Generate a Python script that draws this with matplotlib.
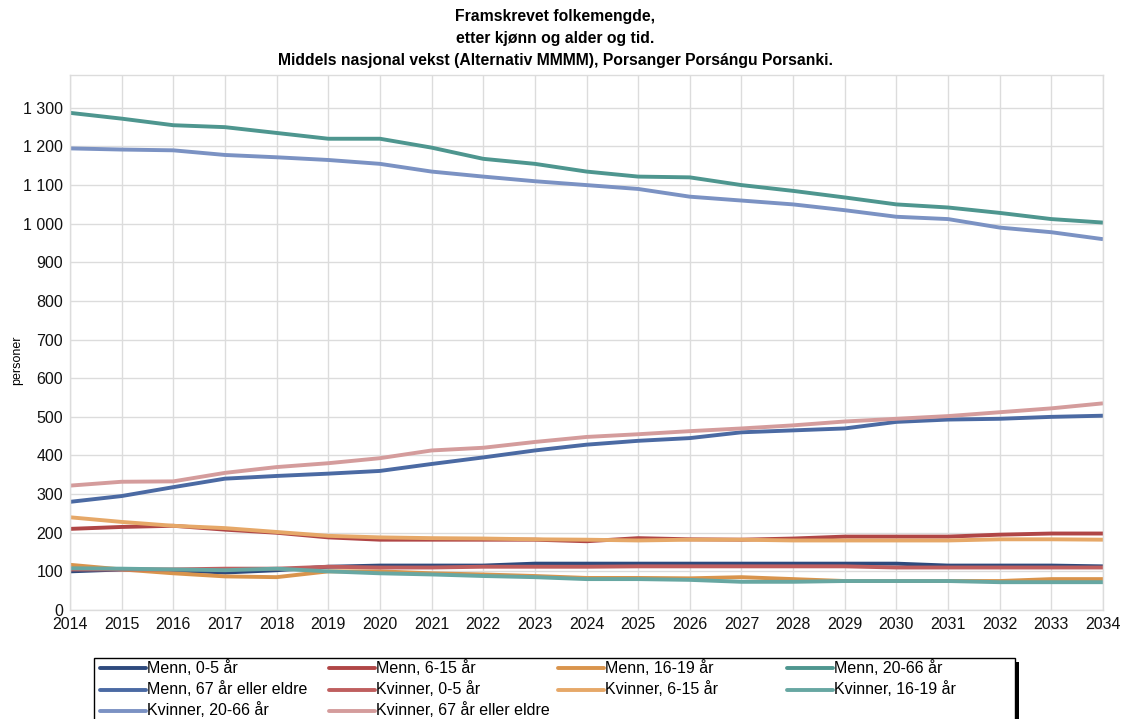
import matplotlib
matplotlib.use("Agg")
import matplotlib.pyplot as plt
from matplotlib.lines import Line2D
from matplotlib.patches import Rectangle

plt.rcParams['font.family'] = ['Liberation Sans', 'DejaVu Sans']

years = list(range(2014, 2035))

series_names = [
    "Menn, 0-5 år", "Menn, 6-15 år", "Menn, 16-19 år", "Menn, 20-66 år",
    "Menn, 67 år eller eldre", "Kvinner, 0-5 år", "Kvinner, 6-15 år",
    "Kvinner, 16-19 år", "Kvinner, 20-66 år", "Kvinner, 67 år eller eldre",
]

menn_0_5 = [100, 105, 103, 97, 103, 112, 115, 115, 115, 120, 120, 120, 120, 120, 120, 120, 120, 115, 115, 115, 113]
menn_6_15 = [210, 215, 218, 208, 200, 188, 182, 182, 182, 182, 178, 186, 183, 182, 185, 190, 190, 190, 195, 198, 198]
menn_16_19 = [117, 105, 95, 87, 85, 100, 100, 95, 92, 88, 83, 83, 82, 85, 80, 75, 75, 75, 75, 80, 80]
menn_20_66 = [1287, 1272, 1255, 1250, 1235, 1220, 1220, 1197, 1168, 1155, 1135, 1122, 1120, 1100, 1085, 1068, 1050, 1042, 1028, 1012, 1003]
menn_67 = [280, 295, 318, 340, 347, 353, 360, 378, 395, 413, 428, 438, 445, 460, 465, 470, 487, 493, 495, 500, 503]
kvinner_0_5 = [105, 105, 105, 107, 107, 112, 110, 110, 112, 112, 112, 113, 113, 113, 113, 113, 110, 110, 110, 110, 110]
kvinner_6_15 = [240, 228, 218, 212, 202, 192, 188, 186, 185, 183, 182, 180, 182, 182, 180, 180, 180, 180, 183, 183, 182]
kvinner_16_19 = [108, 107, 105, 103, 107, 100, 95, 92, 88, 85, 80, 80, 78, 73, 73, 75, 75, 75, 72, 72, 72]
kvinner_20_66 = [1195, 1192, 1190, 1178, 1172, 1165, 1155, 1135, 1122, 1110, 1100, 1090, 1070, 1060, 1050, 1035, 1018, 1012, 990, 978, 960]
kvinner_67 = [322, 332, 333, 355, 370, 380, 393, 413, 420, 435, 448, 455, 463, 470, 478, 488, 495, 502, 512, 522, 535]

series_values = [menn_0_5, menn_6_15, menn_16_19, menn_20_66, menn_67,
                 kvinner_0_5, kvinner_6_15, kvinner_16_19, kvinner_20_66, kvinner_67]

colors = ["#2e4a7d", "#b04646", "#d9944c", "#4e968f", "#4b6aa3",
          "#bf5f5f", "#e6a868", "#67a7a2", "#7b92c3", "#d49c9c"]

yticks = list(range(0, 1400, 100))
ytick_labels = [f"{v:,}".replace(",", " ") for v in yticks]

W, H = 1126, 719
fig = plt.figure(figsize=(W / 100, H / 100), dpi=100)
ax = fig.add_axes([70 / W, 1 - 610 / H, (1103 - 70) / W, (610 - 75) / H])

for vals, name, c in zip(series_values, series_names, colors):
    ax.plot(years, vals, color=c, lw=2.8, label=name, solid_capstyle='butt')

ax.set_xlim(2014, 2034)
ax.set_ylim(0, 1385)
ax.set_xticks(years)
ax.set_xticklabels([str(y) for y in years])
ax.set_yticks(yticks)
ax.set_yticklabels(ytick_labels)
ax.tick_params(axis='both', length=0, labelsize=11.5, colors="#111111")
ax.tick_params(axis='x', pad=5)
ax.tick_params(axis='y', pad=5)
ax.grid(True, color="#dcdcdc", lw=1)
ax.set_axisbelow(True)
for s in ax.spines.values():
    s.set_color("#dcdcdc")
    s.set_linewidth(1)

fig.text(17 / W, 1 - 360 / H, "personer", rotation=90, ha='center', va='center', fontsize=9)

title_lines = ["Framskrevet folkemengde,", "etter kjønn og alder og tid.",
               "Middels nasjonal vekst (Alternativ MMMM), Porsanger Porsángu Porsanki."]
for i, t in enumerate(title_lines):
    fig.text(555 / W, 1 - (17 + 21.5 * i) / H, t, ha='center', va='center',
             fontsize=11.3, fontweight='bold')

# legend drawn row-wise in figure pixel positions
def fx(px):
    return px / W

def fy(py):
    return 1 - py / H

box_l, box_r, box_t, box_b = 94, 1015, 658, 725
fig.add_artist(Rectangle((fx(box_l + 4), fy(box_b)), fx(box_r - box_l), (box_b - box_t - 4) / H,
                         transform=fig.transFigure, facecolor='black', edgecolor='black', lw=0, zorder=1))
fig.add_artist(Rectangle((fx(box_l), fy(box_b)), fx(box_r - box_l), (box_b - box_t) / H,
                         transform=fig.transFigure, facecolor='white', edgecolor='black', lw=1, zorder=2))
col_x = [100, 329, 558, 787]
row_y = [668, 689.5, 710.5]
for k, (name, c) in enumerate(zip(series_names, colors)):
    r, col = divmod(k, 4)
    x0, y0 = col_x[col], row_y[r]
    fig.add_artist(Line2D([fx(x0), fx(x0 + 46)], [fy(y0), fy(y0)], transform=fig.transFigure,
                          color=c, lw=2.8, solid_capstyle='round', zorder=3))
    fig.text(fx(x0 + 47), fy(y0), name, ha='left', va='center', fontsize=11.5, zorder=3)

fig.savefig("out.png", dpi=100)
